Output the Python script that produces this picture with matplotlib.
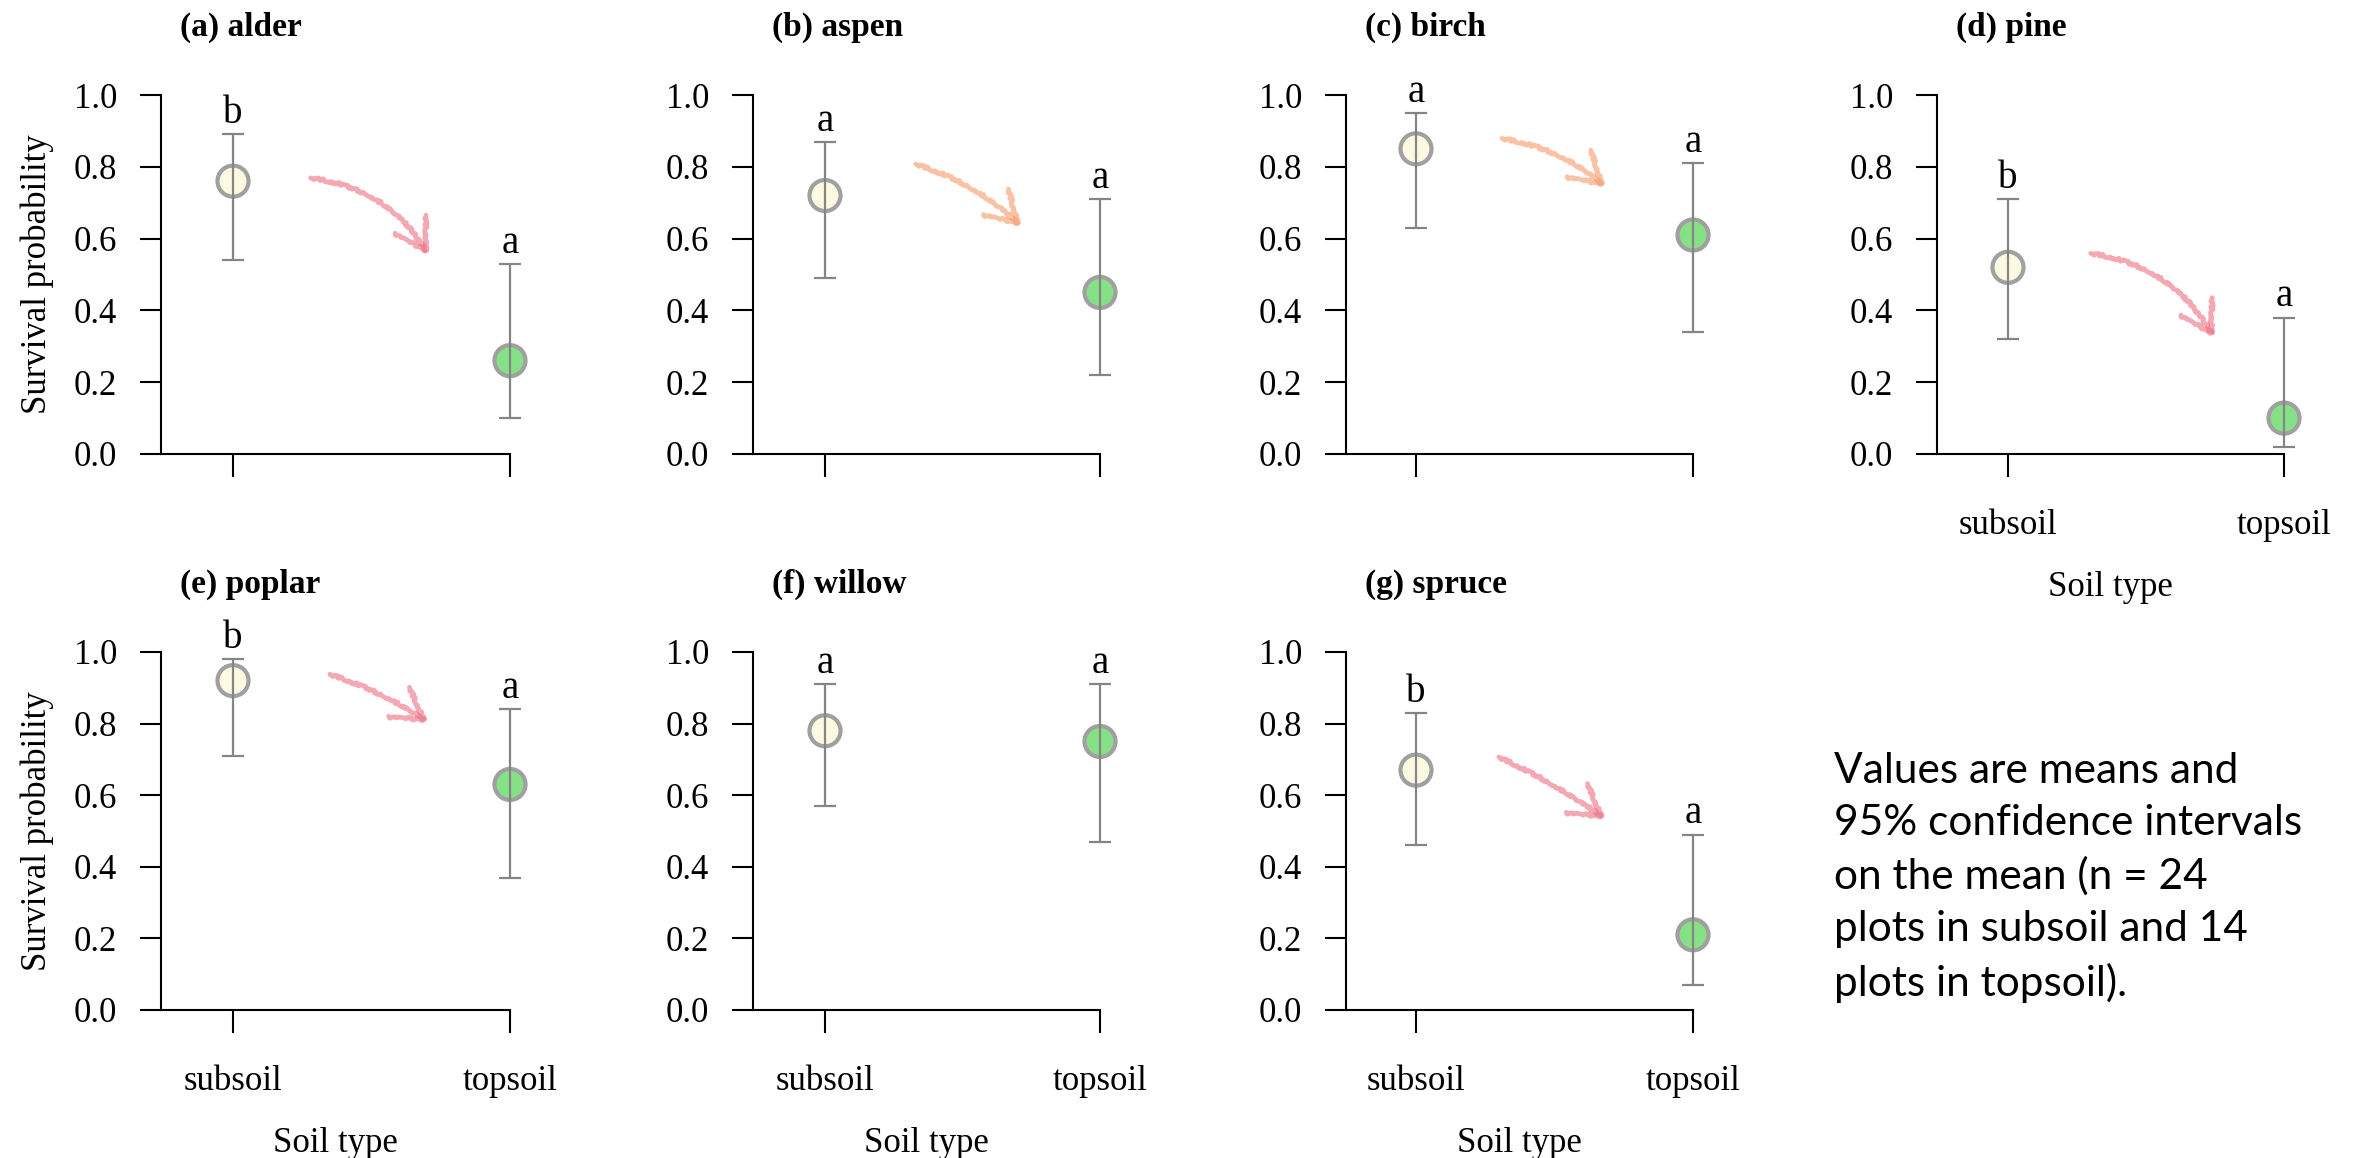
import matplotlib
matplotlib.use("Agg")
import matplotlib.pyplot as plt

# survival data per species: means with 95% CI (subsoil, topsoil)
species = ["(a) alder", "(b) aspen", "(c) birch", "(d) pine",
           "(e) poplar", "(f) willow", "(g) spruce"]
soil_types = ["subsoil", "topsoil"]
mean_sub = [0.76, 0.72, 0.85, 0.52, 0.92, 0.78, 0.67]
lo_sub = [0.54, 0.49, 0.63, 0.32, 0.71, 0.57, 0.46]
hi_sub = [0.89, 0.87, 0.95, 0.71, 0.98, 0.91, 0.83]
mean_top = [0.26, 0.45, 0.61, 0.10, 0.63, 0.75, 0.21]
lo_top = [0.10, 0.22, 0.34, 0.02, 0.37, 0.47, 0.07]
hi_top = [0.53, 0.71, 0.81, 0.38, 0.84, 0.91, 0.49]
letters_sub = ["b", "a", "a", "b", "b", "a", "b"]
letters_top = ["a", "a", "a", "a", "a", "a", "a"]

note = ("Values are means and\n95% confidence intervals\non the mean (n = 24\n"
        "plots in subsoil and 14\nplots in topsoil).")

W, H = 2356, 1158
SERIF = "Liberation Serif"
C_SUB = "#fbf9e2"
C_TOP = "#86e086"
C_EDGE = "#a0a0a0"
C_BAR = "#858585"
RED = "#ec6f82"
ORANGE = "#f59a6a"

# panel boxes in pixels: y-axis x, subsoil x, topsoil x, top y, bottom y, title y
layout = [
    (161, 233, 510, 95, 454, 27),
    (753, 825, 1100, 95, 454, 27),
    (1346, 1416, 1693, 95, 454, 27),
    (1937, 2008, 2284, 95, 454, 27),
    (161, 233, 510, 652, 1010, 584),
    (753, 825, 1100, 652, 1010, 584),
    (1346, 1416, 1693, 652, 1010, 584),
]
show_xlabels = [False, False, False, True, True, True, True]
show_ylabel = [True, False, False, False, True, False, False]

# trend arrows: panel, start, end, colour, curvature
arrows = [
    (0, (1.27, 0.77), (1.71, 0.55), RED, -0.25),
    (1, (1.32, 0.81), (1.72, 0.63), ORANGE, -0.12),
    (2, (1.30, 0.88), (1.69, 0.74), ORANGE, -0.15),
    (3, (1.29, 0.56), (1.75, 0.32), RED, -0.25),
    (4, (1.34, 0.94), (1.71, 0.80), RED, -0.08),
    (6, (1.29, 0.71), (1.69, 0.53), RED, -0.05),
]

fig = plt.figure(figsize=(W / 100, H / 100), dpi=100)
axes = []

for i, name in enumerate(species):
    yax, xs, xt, ytop, ybot, ty = layout[i]
    ax = fig.add_axes([yax / W, 1 - ybot / H, (xt - yax) / W, (ybot - ytop) / H])
    axes.append(ax)
    left = 1 - (xs - yax) / (xt - xs)
    ax.set_xlim(left, 2)
    ax.set_ylim(0, 1)

    xpos = [1, 2]
    means = [mean_sub[i], mean_top[i]]
    los = [lo_sub[i], lo_top[i]]
    his = [hi_sub[i], hi_top[i]]

    ax.scatter(xpos, means, s=500, c=[C_SUB, C_TOP], edgecolors=C_EDGE,
               linewidths=3, zorder=2, clip_on=False)
    ax.errorbar(xpos, means,
                yerr=[[m - l for m, l in zip(means, los)],
                      [h - m for m, h in zip(means, his)]],
                fmt="none", ecolor=C_BAR, elinewidth=1.6, capsize=8,
                capthick=1.6, zorder=3, clip_on=False)

    for x, h, let in zip(xpos, his, [letters_sub[i], letters_top[i]]):
        ax.annotate(let, xy=(x, h), xytext=(0, 8), textcoords="offset points",
                    ha="center", va="baseline", fontsize=28, family=SERIF)

    for s in ["top", "right"]:
        ax.spines[s].set_visible(False)
    ax.spines["left"].set_bounds(0, 1)
    ax.spines["bottom"].set_bounds(left, 2)
    for s in ["left", "bottom"]:
        ax.spines[s].set_linewidth(1.5)

    ax.set_yticks([0, 0.2, 0.4, 0.6, 0.8, 1.0])
    ax.set_yticklabels(["0.0", "0.2", "0.4", "0.6", "0.8", "1.0"])
    ax.set_xticks(xpos)
    if show_xlabels[i]:
        ax.set_xticklabels(soil_types)
        ax.set_xlabel("Soil type", fontsize=25, family=SERIF, labelpad=21)
    else:
        ax.set_xticklabels(["", ""])
    if show_ylabel[i]:
        ax.set_ylabel("Survival probability", fontsize=25, family=SERIF, labelpad=14)
    ax.tick_params(axis="y", length=15, width=1.5, pad=16.5, labelsize=25)
    ax.tick_params(axis="x", length=16.5, width=1.5, pad=23, labelsize=25)
    for lab in ax.get_xticklabels() + ax.get_yticklabels():
        lab.set_family(SERIF)

    fig.text((yax + 19) / W, 1 - ty / H, name, fontsize=24, fontweight="bold",
             family=SERIF, ha="left", va="center")

# hand-drawn trend arrows
for idx, p0, p1, col, rad in arrows:
    ann = axes[idx].annotate("", xy=p1, xytext=p0,
                             arrowprops=dict(arrowstyle="->,head_length=0.9,head_width=0.55",
                                             color=col, lw=3.4, alpha=0.6,
                                             connectionstyle="arc3,rad=%s" % rad,
                                             mutation_scale=24))
    ann.arrow_patch.set_sketch_params(scale=1.2, length=6, randomness=20)

fig.text(1834 / W, 1 - 752 / H, note, fontsize=30.5, family="Lato",
         ha="left", va="top", linespacing=1.45)

fig.savefig("out.png", dpi=100, facecolor="white")
